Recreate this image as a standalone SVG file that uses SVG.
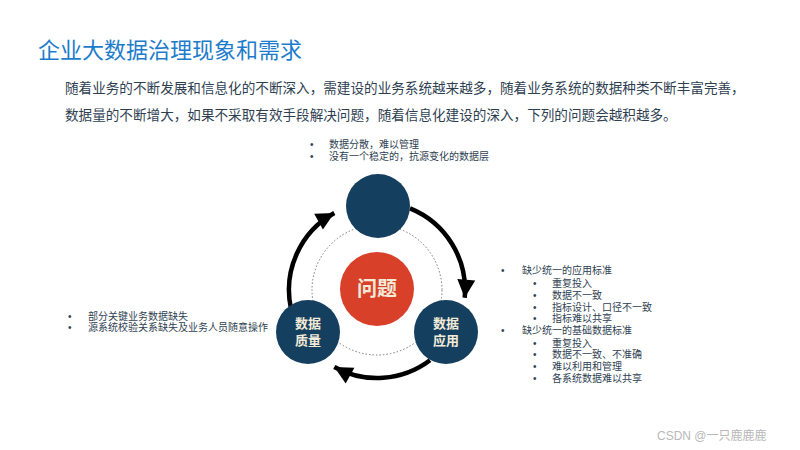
<svg xmlns="http://www.w3.org/2000/svg" width="800" height="450" viewBox="0 0 800 450">
<style>
text{font-family:"Liberation Sans","Noto Sans CJK SC",sans-serif}
.title{font-size:22px;fill:#1c7ccb}
.body{font-size:13.6px;fill:#2f3f52}
.b{font-size:10px;fill:#2f3f52}
.node{fill:#143f5e}
.lbl{font-size:13px;font-weight:bold;fill:#f3ead8;text-anchor:middle}
.arc{fill:none;stroke:#000;stroke-width:4.5}
.wm{font-size:12px;fill:#b8b8b8}
</style>
<defs>
<marker id="ah" markerUnits="userSpaceOnUse" markerWidth="22" markerHeight="22" viewBox="0 0 22 22" refX="20" refY="11" orient="auto">
<path d="M2,2 L20,11 L2,20 Z" fill="#000"/>
</marker>
</defs>
<rect width="800" height="450" fill="#fff"/>
<text class="title" x="38" y="58">企业大数据治理现象和需求</text>
<text class="body" x="65" y="93">随着业务的不断发展和信息化的不断深入，需建设的业务系统越来越多，随着业务系统的数据种类不断丰富完善，</text>
<text class="body" x="65" y="120">数据量的不断增大，如果不采取有效手段解决问题，随着信息化建设的深入，下列的问题会越积越多。</text>

<g id="top-notes">
<text class="b" x="310" y="148">•</text><text class="b" x="329" y="148">数据分散，难以管理</text>
<text class="b" x="310" y="160">•</text><text class="b" x="329" y="160">没有一个稳定的，抗源变化的数据层</text>
</g>

<g id="connectors">
<circle cx="377" cy="290" r="65" fill="none" stroke="#777" stroke-width="1" stroke-dasharray="1.5,2"/>
<path class="arc" d="M410,208.4 A88,88 0 0 1 464.7,297.7" marker-end="url(#ah)"/>
<path class="arc" d="M430,360.3 A88,88 0 0 1 334.3,367" marker-end="url(#ah)"/>
<path class="arc" d="M290.9,308.3 A88,88 0 0 1 334.3,213" marker-end="url(#ah)"/>
</g>

<g id="node-top"><circle class="node" cx="378" cy="206" r="32"/></g>
<g id="node-center"><circle cx="377" cy="289" r="37" fill="#d9402a"/><text x="377" y="296" font-size="20" font-weight="bold" fill="#f3ead8" text-anchor="middle">问题</text></g>
<g id="node-quality"><circle class="node" cx="308" cy="332" r="32"/><text class="lbl" x="308" y="328">数据</text><text class="lbl" x="308" y="345">质量</text></g>
<g id="node-app"><circle class="node" cx="446" cy="332" r="32"/><text class="lbl" x="446" y="328">数据</text><text class="lbl" x="446" y="345">应用</text></g>

<g id="left-notes">
<text class="b" x="68" y="320">•</text><text class="b" x="88" y="320">部分关键业务数据缺失</text>
<text class="b" x="68" y="331">•</text><text class="b" x="88" y="331">源系统校验关系缺失及业务人员随意操作</text>
</g>

<g id="right-notes">
<text class="b" x="501" y="274">•</text><text class="b" x="522" y="274">缺少统一的应用标准</text>
<text class="b" x="533" y="287">•</text><text class="b" x="552" y="287">重复投入</text>
<text class="b" x="533" y="299">•</text><text class="b" x="552" y="299">数据不一致</text>
<text class="b" x="533" y="311">•</text><text class="b" x="552" y="311">指标设计、口径不一致</text>
<text class="b" x="533" y="322">•</text><text class="b" x="552" y="322">指标难以共享</text>
<text class="b" x="501" y="334">•</text><text class="b" x="522" y="334">缺少统一的基础数据标准</text>
<text class="b" x="533" y="347">•</text><text class="b" x="552" y="347">重复投入</text>
<text class="b" x="533" y="358">•</text><text class="b" x="552" y="358">数据不一致、不准确</text>
<text class="b" x="533" y="370">•</text><text class="b" x="552" y="370">难以利用和管理</text>
<text class="b" x="533" y="382">•</text><text class="b" x="552" y="382">各系统数据难以共享</text>
</g>

<text class="wm" x="657" y="440">CSDN @一只鹿鹿鹿</text>
</svg>
